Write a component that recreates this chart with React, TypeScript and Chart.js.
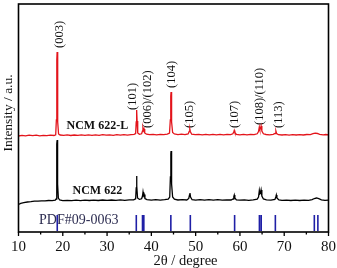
import React, { useEffect, useRef } from "react";
import { Chart, registerables } from "chart.js";

Chart.register(...registerables);

// XRD patterns: [2θ (degree), intensity (a.u., stacked offset included)]
const ncm622L: [number, number][] = [
  [10, 96.0], [10.8, 96.6], [11.6, 96.1], [12.4, 96.8], [13.2, 96.3], [14.0, 96.9], [14.8, 96.2],
  [15.6, 96.7], [16.4, 96.3], [17.2, 96.9], [18.0, 96.5], [18.4, 97.2],
  [18.55, 112], [18.65, 172], [18.72, 180], [18.8, 168], [18.9, 110], [19.05, 98],
  [19.4, 97.0], [20.2, 96.6], [21.0, 97.1], [21.8, 96.5], [22.6, 97.0], [23.4, 96.6], [24.2, 97.2],
  [25.0, 96.7], [25.8, 97.1], [26.6, 96.6], [27.4, 97.2], [28.2, 96.7], [29.0, 97.3], [29.8, 96.8],
  [30.6, 97.2], [31.4, 96.7], [32.2, 97.3], [33.0, 96.9], [33.8, 97.3], [34.6, 96.9], [35.4, 97.4],
  [36.1, 97.6], [36.45, 98.5], [36.58, 110], [36.68, 122], [36.78, 111], [36.92, 99],
  [37.3, 97.8], [37.8, 98.2], [38.0, 101], [38.1, 104], [38.22, 101.5], [38.35, 103], [38.5, 99],
  [38.9, 97.8], [39.6, 97.3], [40.4, 97.7], [41.2, 97.2], [42.0, 97.7], [42.8, 97.3], [43.6, 97.9],
  [44.1, 99], [44.28, 112], [44.38, 136], [44.45, 140], [44.52, 134], [44.62, 110], [44.8, 99.5],
  [45.2, 98], [46.0, 97.4], [46.8, 97.8], [47.6, 97.3], [48.3, 98], [48.55, 100.5], [48.68, 103],
  [48.8, 100.5], [49.1, 97.8], [49.9, 97.3], [50.7, 97.7], [51.5, 97.2], [52.3, 97.7], [53.1, 97.2],
  [53.9, 97.7], [54.7, 97.2], [55.5, 97.6], [56.3, 97.2], [57.1, 97.7], [57.9, 97.4], [58.4, 98.2],
  [58.6, 100], [58.72, 101.5], [58.85, 99.5], [59.2, 97.6], [60.0, 97.2], [60.8, 97.6], [61.6, 97.1],
  [62.4, 97.6], [63.2, 97.3], [63.9, 98.2], [64.2, 100.5], [64.38, 105], [64.5, 102.5], [64.62, 103],
  [64.78, 106], [64.95, 101], [65.3, 98.2], [65.9, 97.5], [66.7, 97.1], [67.5, 97.6], [67.95, 98.5],
  [68.12, 101], [68.28, 98.5], [68.7, 97.3], [69.5, 97.0], [70.3, 97.4], [71.1, 96.9], [71.9, 97.4],
  [72.7, 97.0], [73.5, 97.4], [74.3, 97.0], [75.1, 97.5], [75.9, 97.3], [76.5, 98.3], [77.0, 98.8],
  [77.5, 98.5], [78.0, 97.6], [78.8, 97.1], [79.4, 97.5], [80, 97.2],
];

const ncm622: [number, number][] = [
  [10, 27.5], [10.5, 28.6], [11.2, 29.4], [12, 30.0], [12.8, 30.3], [13.6, 30.8], [14.4, 30.9],
  [15.2, 31.2], [16.0, 31.1], [16.8, 31.5], [17.6, 31.4], [18.3, 31.8],
  [18.5, 33], [18.6, 50], [18.68, 88], [18.72, 92], [18.78, 84], [18.88, 48], [19.0, 34],
  [19.3, 32], [20.0, 31.4], [21, 31.7], [22, 31.3], [23, 31.8], [24, 31.4], [25, 31.8], [26, 31.5],
  [27, 31.9], [28, 31.5], [29, 32], [30, 31.6], [31, 32], [32, 31.6], [33, 32.1], [34, 31.7],
  [35, 32.1], [36.0, 32.2], [36.45, 33.2], [36.58, 44], [36.66, 56], [36.74, 46], [36.88, 34],
  [37.3, 32.6], [37.8, 33.2], [38.0, 36], [38.12, 40], [38.25, 36.5], [38.38, 37.5], [38.55, 33.5],
  [39, 32.4], [40, 31.9], [41, 32.3], [42, 31.8], [43, 32.3], [43.8, 32.8], [44.15, 35],
  [44.3, 55], [44.4, 78], [44.45, 81], [44.52, 74], [44.62, 48], [44.8, 35], [45.2, 32.8],
  [46, 32], [47, 32.4], [48, 32], [48.45, 33.5], [48.62, 37], [48.72, 39], [48.85, 35], [49.2, 32.3],
  [50, 31.9], [51, 32.3], [52, 31.8], [53, 32.3], [54, 31.9], [55, 32.3], [56, 31.9], [57, 32.2],
  [58, 32], [58.45, 33], [58.62, 35.5], [58.72, 37], [58.85, 34], [59.2, 32.2], [60, 31.8],
  [61, 32.2], [62, 31.7], [63, 32.1], [63.9, 32.8], [64.2, 35], [64.38, 41.5], [64.5, 38],
  [64.62, 38.5], [64.78, 42], [64.95, 36], [65.3, 33], [66, 32.2], [67, 31.8], [67.9, 32.6],
  [68.1, 35], [68.22, 37], [68.35, 34], [68.8, 32], [69.5, 31.6], [70.5, 31.9], [71.5, 31.5],
  [72.5, 31.9], [73.5, 31.5], [74.5, 31.9], [75.5, 31.7], [76.3, 32.4], [76.8, 33.5], [77.3, 34],
  [77.8, 33.3], [78.4, 32.2], [79.2, 31.6], [80, 31.8],
];

// Standard card reference lines (2θ) and their drawn extent
const pdfLines: number[] = [18.75, 36.6, 38.0, 38.3, 44.4, 48.8, 58.8, 64.4, 64.8, 68.0, 76.8, 77.6];
const pdfLow = 1;
const pdfHigh = 17;

// Miller index labels: text, 2θ of label centre, intensity at label start
const peakLabelText: string[] = ["(003)", "(101)", "(006)/(102)", "(104)", "(105)", "(107)", "(108)/(110)", "(113)"];
const peakLabelAngle: number[] = [19.24, 35.81, 39.19, 44.54, 48.66, 58.8, 64.51, 68.66];
const peakLabelBase: number[] = [184, 122, 104, 144, 104, 104, 107, 104];

// Sample names: text, 2θ, intensity
const seriesNames: string[] = ["NCM 622-L", "NCM 622", "PDF#09-0063"];
const seriesNameAngle: number[] = [27.8, 27.8, 23.6];
const seriesNameLevel: number[] = [106, 41, 12];

const xTicksMajor: number[] = [10, 20, 30, 40, 50, 60, 70, 80];
const xTicksMinor: number[] = [15, 25, 35, 45, 55, 65, 75];
const xTitle = "2θ / degree";
const yTitle = "Intensity / a.u.";

const SERIF = '"Liberation Serif", "Times New Roman", serif';

const toXY = (arr: [number, number][]) => arr.map(([x, y]) => ({ x, y }));

const decorations = {
  id: "xrdDecorations",
  beforeDatasetsDraw(chart: any) {
    const { ctx, scales } = chart;
    const xs = scales.x;
    const ys = scales.y;
    ctx.save();
    // peak labels, rotated
    ctx.fillStyle = "#111";
    ctx.font = `12.5px ${SERIF}`;
    ctx.textAlign = "left";
    ctx.textBaseline = "middle";
    peakLabelText.forEach((t, i) => {
      const px = xs.getPixelForValue(peakLabelAngle[i]);
      const py = ys.getPixelForValue(peakLabelBase[i]);
      ctx.save();
      ctx.translate(px, py);
      ctx.rotate(-Math.PI / 2);
      ctx.fillText(t, 0, 0);
      ctx.restore();
    });
    // sample names
    ctx.textAlign = "center";
    seriesNames.forEach((t, i) => {
      const isRef = i === 2;
      ctx.font = isRef ? `14px ${SERIF}` : `bold 12px ${SERIF}`;
      ctx.fillStyle = isRef ? "#2e2e52" : "#111";
      ctx.fillText(t, xs.getPixelForValue(seriesNameAngle[i]), ys.getPixelForValue(seriesNameLevel[i]));
    });
    ctx.restore();
  },
  afterDraw(chart: any) {
    const { ctx, chartArea, scales } = chart;
    const xs = scales.x;
    const { left, right, top, bottom } = chartArea;
    ctx.save();
    ctx.strokeStyle = "#000";
    ctx.lineWidth = 1.6;
    ctx.strokeRect(left, top, right - left, bottom - top);
    ctx.lineWidth = 1.3;
    ctx.beginPath();
    xTicksMajor.forEach((v) => {
      const px = xs.getPixelForValue(v);
      ctx.moveTo(px, bottom);
      ctx.lineTo(px, bottom + 4);
    });
    xTicksMinor.forEach((v) => {
      const px = xs.getPixelForValue(v);
      ctx.moveTo(px, bottom);
      ctx.lineTo(px, bottom + 2.5);
    });
    ctx.stroke();
    ctx.fillStyle = "#111";
    ctx.font = `15px ${SERIF}`;
    ctx.textAlign = "center";
    ctx.textBaseline = "middle";
    xTicksMajor.forEach((v) => {
      ctx.fillText(String(v), xs.getPixelForValue(v), bottom + 15);
    });
    ctx.font = `14.5px ${SERIF}`;
    ctx.fillText(xTitle, (left + right) / 2 + 12, bottom + 29);
    ctx.save();
    ctx.translate(8, (top + bottom) / 2 - 5);
    ctx.rotate(-Math.PI / 2);
    ctx.font = `13.5px ${SERIF}`;
    ctx.fillText(yTitle, 0, 0);
    ctx.restore();
    ctx.restore();
  },
};

export default function App() {
  const ref = useRef<HTMLCanvasElement | null>(null);

  useEffect(() => {
    if (!ref.current) return;
    const pdfData: { x: number; y: number | null }[] = [];
    pdfLines.forEach((a) => {
      pdfData.push({ x: a, y: pdfLow }, { x: a, y: pdfHigh }, { x: a, y: null });
    });
    const chart = new Chart(ref.current, {
      type: "scatter",
      data: {
        datasets: [
          {
            label: "NCM 622-L",
            data: toXY(ncm622L),
            showLine: true,
            borderColor: "#e3141b",
            borderWidth: 1.3,
            pointRadius: 0,
            tension: 0,
          },
          {
            label: "NCM 622",
            data: toXY(ncm622),
            showLine: true,
            borderColor: "#000000",
            borderWidth: 1.3,
            pointRadius: 0,
            tension: 0,
          },
          {
            label: "PDF#09-0063",
            data: pdfData as any,
            showLine: true,
            spanGaps: false,
            borderColor: "#1f1fa6",
            borderWidth: 1.6,
            pointRadius: 0,
          },
        ],
      },
      options: {
        responsive: false,
        animation: false,
        layout: { padding: { left: 18.5, top: 4, right: 8.5, bottom: 36 } },
        plugins: { legend: { display: false }, tooltip: { enabled: false } },
        scales: {
          x: { type: "linear", min: 10, max: 80, display: false },
          y: { type: "linear", min: 0, max: 228, display: false },
        },
      },
      plugins: [decorations],
    });
    return () => chart.destroy();
  }, []);

  return (
    <div style={{ position: "fixed", left: 0, top: 0, width: 337, height: 268, background: "#fff" }}>
      <canvas ref={ref} width={337} height={268} style={{ display: "block" }} />
    </div>
  );
}
